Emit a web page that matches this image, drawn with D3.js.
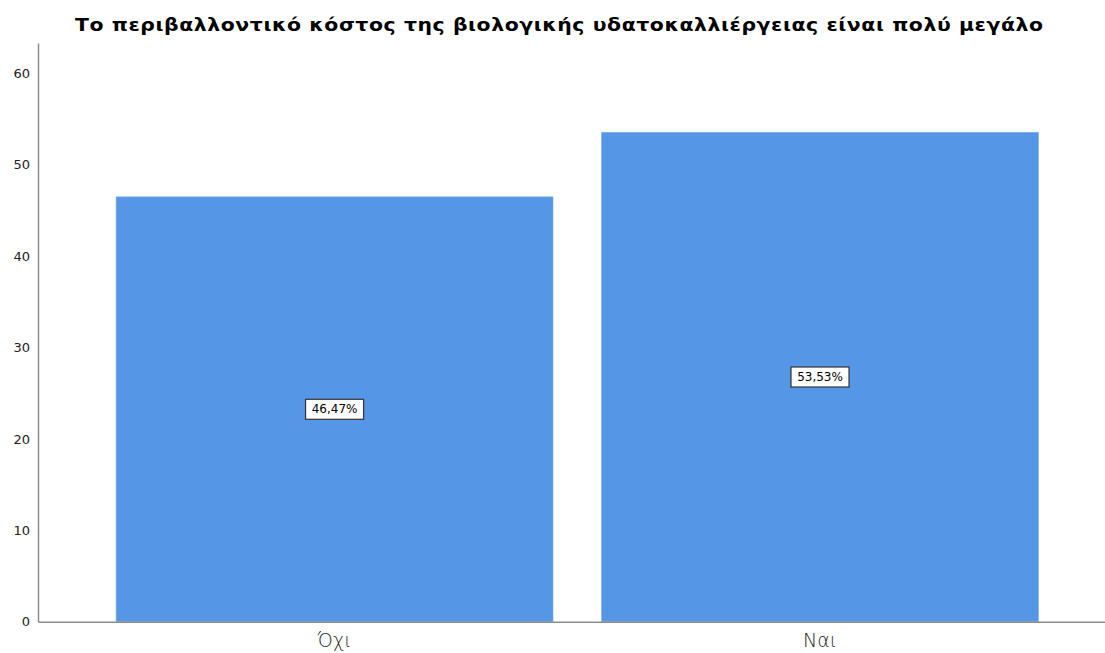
<!DOCTYPE html>
<html><head><meta charset="utf-8">
<script src="https://cdn.jsdelivr.net/npm/d3@7"></script>
<style>body{margin:0;background:#fff}svg{display:block}</style>
</head><body>
<svg id="c" width="1105" height="653"></svg>
<script>
const title = "Το περιβαλλοντικό κόστος της βιολογικής υδατοκαλλιέργειας είναι πολύ μεγάλο";
const categories = ["Όχι", "Ναι"];
const values = [46.47, 53.53];
const labels = ["46,47%", "53,53%"];
const yTicks = [0, 10, 20, 30, 40, 50, 60];

const svg = d3.select("#c");
const mLeft = 38, mRight = 1105, mTop = 43, mBottom = 621.7;

const x = d3.scaleBand().domain(categories).range([mLeft, mRight])
  .paddingInner(0.1).paddingOuter(0.149).align(0.54);
const y = d3.scaleLinear().domain([0, 63.3]).range([mBottom, mTop]);

const sx = 1.2;
svg.append("text").attr("transform", `scale(${sx},1)`)
  .attr("x", 559 / sx).attr("y", 31).attr("text-anchor", "middle")
  .attr("font-family", "DejaVu Sans").attr("font-weight", "bold").attr("font-size", 17)
  .attr("textLength", 968 / sx).attr("lengthAdjust", "spacing")
  .attr("fill", "#000").text(title);

svg.selectAll("rect.bar").data(values).join("rect").attr("class", "bar")
  .attr("x", (d, i) => x(categories[i])).attr("width", x.bandwidth())
  .attr("y", d => y(d)).attr("height", d => y(0) - y(d))
  .attr("fill", "#5596e6").attr("stroke", "#7aaeea").attr("stroke-width", 0.6);

const yAxis = d3.axisLeft(y).tickValues(yTicks).tickSize(0).tickPadding(8).tickFormat(d3.format("d"));
const ga = svg.append("g").attr("transform", `translate(${mLeft},0)`).call(yAxis);
ga.select(".domain").attr("stroke", "#8c8c8c").attr("stroke-width", 1.5);
ga.selectAll("text").attr("font-family", "DejaVu Sans").attr("font-size", 13).attr("fill", "#222");

const xAxis = d3.axisBottom(x).tickSize(0).tickPadding(12);
const gx = svg.append("g").attr("transform", `translate(0,${mBottom})`).call(xAxis);
gx.select(".domain").attr("stroke", "#8c8c8c").attr("stroke-width", 1.5);
gx.selectAll("text").attr("font-family", "DejaVu Sans").attr("font-size", 19).attr("fill", "#222").attr("font-weight", 300);

const lg = svg.selectAll("g.lab").data(values).join("g").attr("class", "lab")
  .attr("transform", (d, i) => `translate(${x(categories[i]) + x.bandwidth() / 2},${y(d / 2)})`);
lg.append("rect").attr("x", -29).attr("y", -10).attr("width", 58).attr("height", 20)
  .attr("fill", "#fff").attr("stroke", "#333").attr("stroke-width", 1.2);
lg.append("text").attr("text-anchor", "middle").attr("dy", "0.35em")
  .attr("font-family", "DejaVu Sans").attr("font-size", 12).attr("fill", "#000")
  .text((d, i) => labels[i]);
</script>
</body></html>
